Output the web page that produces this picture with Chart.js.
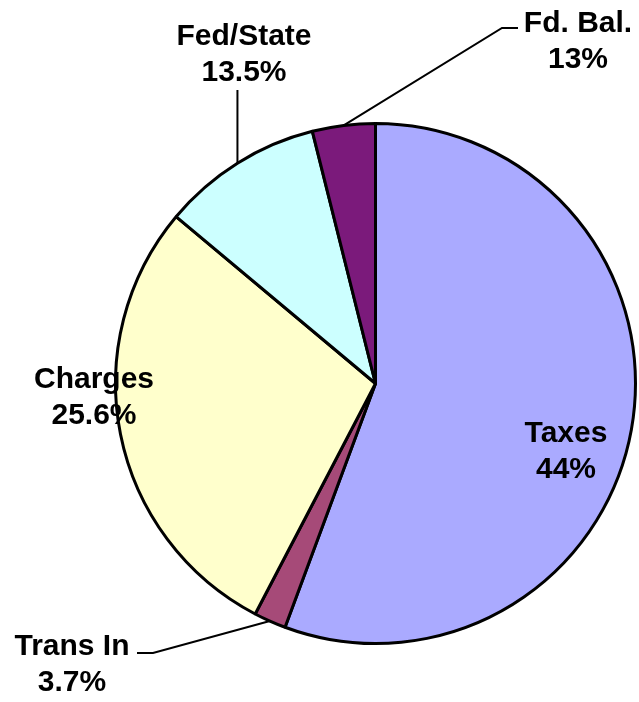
<!DOCTYPE html>
<html>
<head>
<meta charset="utf-8">
<title>Revenue sources</title>
<script src="https://cdn.jsdelivr.net/npm/chart.js@4/dist/chart.umd.min.js"></script>
<style>
  html, body { margin: 0; padding: 0; background: #fff; }
  #wrap { width: 639px; height: 702px; }
</style>
</head>
<body>
<div id="wrap"><canvas id="chart-revenue" width="639" height="702"></canvas></div>
<script>
// slice order = clockwise from 12 o'clock
const categories = ["Taxes", "Trans In", "Charges", "Fed/State", "Fd. Bal."];
// slice sizes as drawn (share of circle, %)
const sliceShares = [55.6, 2.0, 28.4, 10.0, 3.9];
// percentages printed on the labels
const labelPcts = ["44%", "3.7%", "25.6%", "13.5%", "13%"];

const sliceColors = ["#aaaaff", "#a64a78", "#ffffcc", "#ccffff", "#7b1a7b"];

// label layout: text centre x, first baseline y, and leader line (null = none)
const labelLayout = [
  { x: 566, y: 442, leader: null },
  { x: 72,  y: 655, leader: [[153, 653], [137, 653]] },
  { x: 94,  y: 388, leader: null },
  { x: 244, y: 45,  leader: "vertical", top: 90 },
  { x: 578, y: 32,  leader: [[502, 28], [518, 28]] }
];

const LINE_GAP = 36;

// draws the two-line labels and leader lines
const pieLabels = {
  id: "pieLabels",
  afterDatasetsDraw(chart) {
    const ctx = chart.ctx;
    const arcs = chart.getDatasetMeta(0).data;
    ctx.save();
    ctx.strokeStyle = "#000";
    ctx.lineWidth = 2;
    arcs.forEach((arc, i) => {
      const p = arc.getProps(["x", "y", "startAngle", "endAngle", "outerRadius"], true);
      const mid = (p.startAngle + p.endAngle) / 2;
      const ex = p.x + Math.cos(mid) * p.outerRadius;
      const ey = p.y + Math.sin(mid) * p.outerRadius;
      const lay = labelLayout[i];
      if (lay.leader === "vertical") {
        ctx.beginPath();
        ctx.moveTo(ex, ey);
        ctx.lineTo(ex, lay.top);
        ctx.stroke();
      } else if (lay.leader) {
        ctx.beginPath();
        ctx.moveTo(ex, ey);
        lay.leader.forEach(pt => ctx.lineTo(pt[0], pt[1]));
        ctx.stroke();
      }
    });

    ctx.fillStyle = "#000";
    ctx.font = "bold 30px 'Liberation Sans', Arial, sans-serif";
    ctx.textAlign = "center";
    ctx.textBaseline = "alphabetic";
    categories.forEach((name, i) => {
      const lay = labelLayout[i];
      ctx.fillText(name, lay.x, lay.y);
      ctx.fillText(labelPcts[i], lay.x, lay.y + LINE_GAP);
    });
    ctx.restore();
  }
};

const ctx = document.getElementById("chart-revenue").getContext("2d");
new Chart(ctx, {
  type: "pie",
  data: {
    labels: categories,
    datasets: [{
      data: sliceShares,
      backgroundColor: sliceColors,
      borderColor: "#000",
      borderWidth: 3
    }]
  },
  options: {
    responsive: false,
    animation: false,
    layout: {
      padding: { left: 114, top: 122, right: 2, bottom: 57 }
    },
    plugins: {
      legend: { display: false },
      tooltip: { enabled: false },
      title: { display: false }
    }
  },
  plugins: [pieLabels]
});
</script>
</body>
</html>
